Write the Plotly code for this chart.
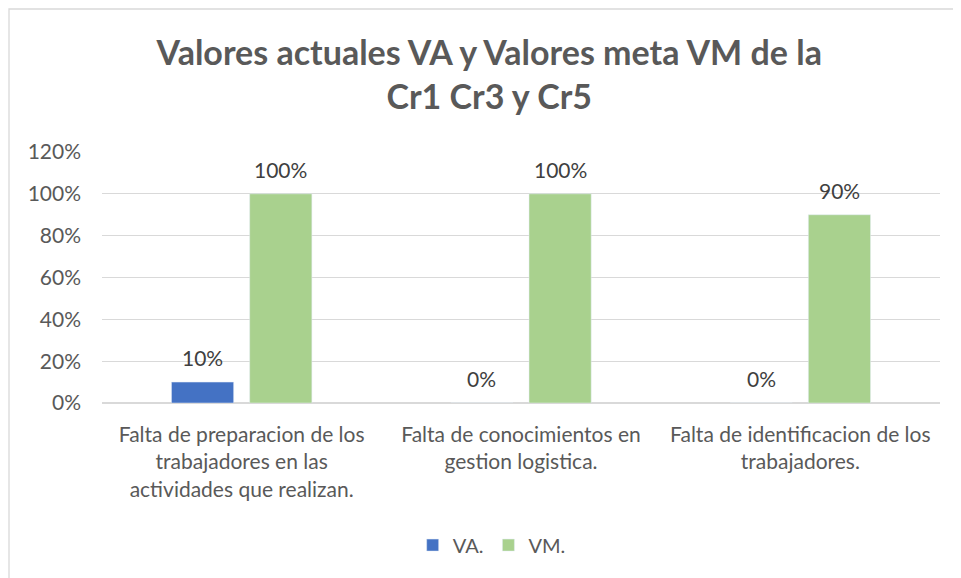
import plotly.graph_objects as go

categorias = [
    "Falta de preparacion de los<br>trabajadores en las<br>actividades que realizan.",
    "Falta de conocimientos en<br>gestion logistica.",
    "Falta de identificacion de los<br>trabajadores.",
]
va = [0.10, 0.0, 0.0]
vm = [1.00, 1.00, 0.90]

fuente = "Lato, sans-serif"
gris = "#595959"
hueco = 0.44
hueco_grupo = 0.205

fig = go.Figure(data=[
    go.Bar(name="VA.", x=categorias, y=va, marker_color="#4472C4"),
    go.Bar(name="VM.", x=categorias, y=vm, marker_color="#A9D18E"),
])

# etiquetas de datos sobre cada barra
mitad = (1 - hueco) / 4
for serie, signo in ((va, -1), (vm, 1)):
    for i, v in enumerate(serie):
        fig.add_annotation(x=i + signo * mitad, y=v, text=f"{v:.0%}", showarrow=False,
                           yanchor="bottom", yshift=10,
                           font=dict(family=fuente, size=21, color="#404040"))

fig.update_layout(
    width=953, height=570,
    margin=dict(l=94, r=21, t=144, b=175, autoexpand=False),
    paper_bgcolor="white", plot_bgcolor="white",
    font=dict(family=fuente, color=gris),
    barmode="group", bargap=hueco, bargroupgap=hueco_grupo,
    title=dict(text="<b>Valores actuales VA y Valores meta VM de la<br>Cr1 Cr3 y Cr5</b>",
               x=0.505, xanchor="center", y=0.9, yanchor="top",
               font=dict(size=34, color=gris, family=fuente)),
    legend=dict(orientation="h", x=0.465, xanchor="center", y=-0.566, yanchor="middle",
                font=dict(size=20, color=gris, family=fuente)),
    showlegend=True,
)

fig.update_yaxes(range=[0, 1.2], dtick=0.2, tickformat=".0%", showgrid=True,
                 gridcolor="#D9D9D9", gridwidth=1.3, zeroline=True, zerolinecolor="#D9D9D9",
                 ticks="", tickfont=dict(size=21, color=gris), ticklabelstandoff=20)
fig.update_xaxes(showline=False, ticks="", tickfont=dict(size=21, color=gris),
                 ticklabelstandoff=17)

# marco del grafico
fig.add_shape(type="rect", xref="paper", yref="paper", x0=-93/838, x1=1.2, y0=-1, y1=394/251,
              line=dict(color="#D9D9D9", width=1.3), fillcolor="rgba(0,0,0,0)", layer="below")

fig.write_html("out.html")
